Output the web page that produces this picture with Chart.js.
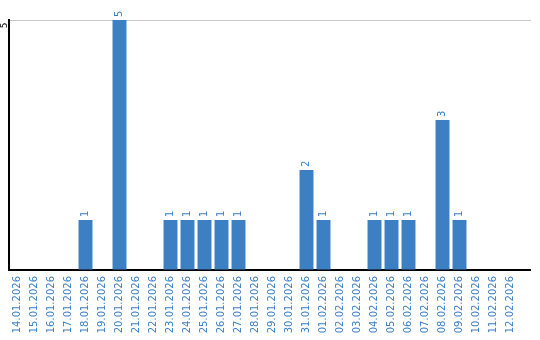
<!DOCTYPE html>
<html>
<head>
<meta charset="utf-8">
<script src="https://cdn.jsdelivr.net/npm/chart.js@4.4.1/dist/chart.umd.min.js"></script>
<style>
  html, body { margin: 0; padding: 0; background: #fff; }
  #wrap { width: 540px; height: 340px; }
</style>
</head>
<body>
<div id="wrap"><canvas id="myChart"></canvas></div>
<script>
var dates = ['14.01.2026', '15.01.2026', '16.01.2026', '17.01.2026', '18.01.2026', '19.01.2026',
  '20.01.2026', '21.01.2026', '22.01.2026', '23.01.2026', '24.01.2026', '25.01.2026',
  '26.01.2026', '27.01.2026', '28.01.2026', '29.01.2026', '30.01.2026', '31.01.2026',
  '01.02.2026', '02.02.2026', '03.02.2026', '04.02.2026', '05.02.2026', '06.02.2026',
  '07.02.2026', '08.02.2026', '09.02.2026', '10.02.2026', '11.02.2026', '12.02.2026'];
var counts = [0, 0, 0, 0, 1, 0, 5, 0, 0, 1, 1, 1, 1, 1, 0, 0, 0, 2, 1, 0, 0, 1, 1, 1, 0, 3, 1, 0, 0, 0];
var yTicks = [5];

var blue = '#3c7fc3';

// numbers above the bars, turned on their side
var barValues = {
  id: 'barValues',
  afterDatasetsDraw: function (chart) {
    var ctx = chart.ctx;
    var meta = chart.getDatasetMeta(0);
    ctx.save();
    ctx.fillStyle = blue;
    ctx.font = '10px "DejaVu Sans"';
    ctx.textAlign = 'left';
    ctx.textBaseline = 'middle';
    for (var i = 0; i < meta.data.length; i++) {
      if (!counts[i]) continue;
      var bar = meta.data[i];
      ctx.save();
      ctx.translate(bar.x, bar.y - 3);
      ctx.rotate(-Math.PI / 2);
      ctx.fillText(String(counts[i]), 0, 0);
      ctx.restore();
    }
    ctx.restore();
  }
};

// y tick label sits under its grid line, turned; grid line and base line run on past the last bar
var axisExtras = {
  id: 'axisExtras',
  afterDraw: function (chart) {
    var ctx = chart.ctx;
    var area = chart.chartArea;
    var y = chart.scales.y;
    ctx.save();
    ctx.fillStyle = '#000';
    ctx.font = '9px "DejaVu Sans"';
    ctx.textAlign = 'right';
    ctx.textBaseline = 'middle';
    yTicks.forEach(function (t) {
      var py = y.getPixelForValue(t);
      ctx.save();
      ctx.translate(5, py + 2.5);
      ctx.rotate(-Math.PI / 2);
      ctx.fillText(String(t), 0, 0);
      ctx.restore();
    });
    ctx.lineWidth = 1;
    ctx.strokeStyle = '#c8c8c8';
    ctx.beginPath();
    var gy = Math.round(y.getPixelForValue(yTicks[0])) + 0.5;
    ctx.moveTo(area.right, gy);
    ctx.lineTo(area.right + 12, gy);
    ctx.stroke();
    ctx.strokeStyle = '#000';
    ctx.lineWidth = 2;
    ctx.beginPath();
    ctx.moveTo(area.right, area.bottom);
    ctx.lineTo(area.right + 12, area.bottom);
    ctx.stroke();
    ctx.restore();
  }
};

var ctx = document.getElementById('myChart').getContext('2d');
var myChart = new Chart(ctx, {
  type: 'bar',
  data: {
    labels: dates,
    datasets: [{
      data: counts,
      backgroundColor: blue,
      categoryPercentage: 1,
      barPercentage: 0.82
    }]
  },
  options: {
    responsive: true,
    maintainAspectRatio: false,
    animation: false,
    layout: { padding: { top: 20, right: 21, left: 0, bottom: 0 } },
    plugins: { legend: { display: false }, tooltip: { enabled: false } },
    scales: {
      x: {
        grid: { display: false, drawTicks: false },
        border: { color: '#000', width: 2 },
        ticks: {
          color: blue,
          font: { family: 'DejaVu Sans', size: 10 },
          minRotation: 90,
          maxRotation: 90,
          autoSkip: false,
          padding: 6
        },
        afterFit: function (scale) { scale.height = 70; }
      },
      y: {
        min: 0,
        max: 5,
        grid: { color: '#c8c8c8', drawTicks: false },
        border: { color: '#000', width: 2 },
        ticks: { display: false, stepSize: 5 },
        afterFit: function (scale) { scale.width = 9; }
      }
    }
  },
  plugins: [barValues, axisExtras]
});
</script>
</body>
</html>
